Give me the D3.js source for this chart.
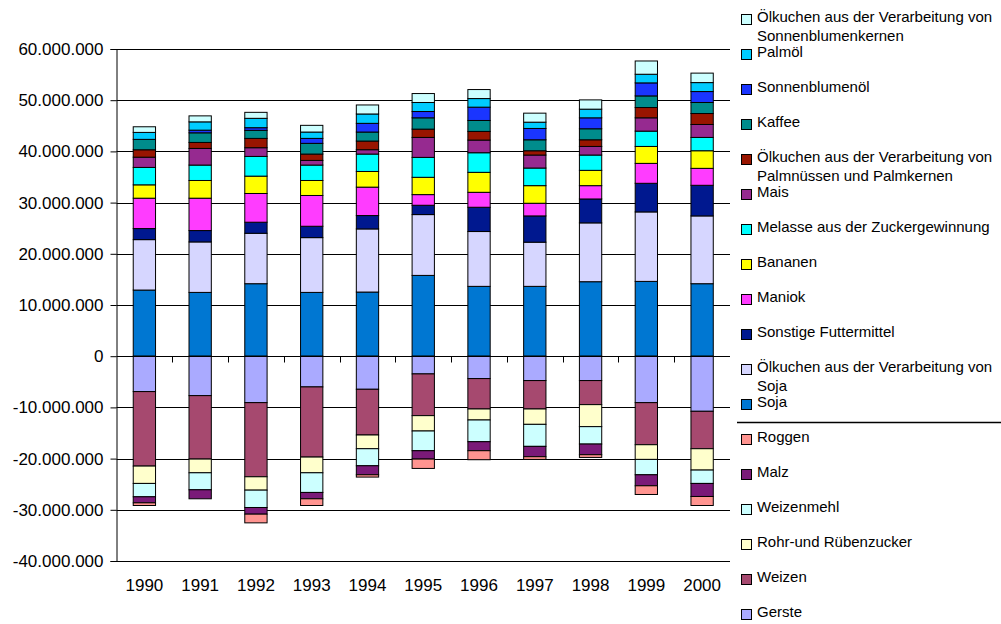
<!DOCTYPE html>
<html><head><meta charset="utf-8">
<script src="https://cdn.jsdelivr.net/npm/d3@7"></script>
<style>
html,body{margin:0;padding:0;background:#fff;}
svg{display:block;font-family:"Liberation Sans",Arial,sans-serif;}
</style></head>
<body>
<svg id="chart" width="1001" height="624"></svg>
<script>
// ---- data (tonnes) ----
const years = ["1990","1991","1992","1993","1994","1995","1996","1997","1998","1999","2000"];
const yTicks = [-40000000,-30000000,-20000000,-10000000,0,10000000,20000000,30000000,40000000,50000000,60000000];

// positive series (stacked from zero upwards, in this order)
const soja            = [12920000,12460000,14160000,12460000,12530000,15780000,13640000,13640000,14550000,14610000,14160000];
const oelkuchenSoja   = [ 9850000, 9860000, 9850000,10700000,12330000,11880000,10710000, 8630000,11490000,13570000,13240000];
const sonstige        = [ 2160000, 2220000, 2160000, 2220000, 2610000, 1820000, 4740000, 5130000, 4670000, 5590000, 5980000];
const maniok          = [ 5930000, 6320000, 5610000, 6010000, 5550000, 2080000, 2920000, 2470000, 2600000, 3890000, 3310000];
const bananen         = [ 2610000, 3460000, 3390000, 2930000, 3060000, 3380000, 3900000, 3440000, 2990000, 3310000, 3440000];
const melasse         = [ 3400000, 3010000, 3850000, 3010000, 3400000, 3890000, 3830000, 3440000, 2990000, 2990000, 2600000];
const mais            = [ 2000000, 3250000, 1700000,  910000,  850000, 3900000, 2470000, 2540000, 1680000, 2600000, 2530000];
const oelkuchenPalm   = [ 1450000, 1170000, 1820000, 1240000, 1690000, 1620000, 1690000,  840000, 1300000, 2010000, 2140000];
const kaffee          = [ 2030000, 1880000, 1570000, 2090000, 1760000, 2210000, 2140000, 2140000, 2150000, 2270000, 2150000];
const sonnenblumenoel = [       0,  520000,  520000,  970000, 1700000, 1230000, 2600000, 2210000, 2140000, 2540000, 2140000];
const palmoel         = [ 1360000, 1620000, 1830000, 1240000, 1830000, 1760000, 1680000, 1230000, 1690000, 1690000, 1750000];
const oelkuchenSonnen = [ 1100000, 1170000, 1170000, 1310000, 1760000, 1750000, 1760000, 1760000, 1810000, 2590000, 1850000];

// negative series (stacked from zero downwards, in this order)
const gerste          = [ -6910000, -7700000, -9070000, -6000000, -6460000, -3460000, -4370000, -4760000, -4760000, -9070000,-10760000];
const weizen          = [-14550000,-12390000,-14480000,-13700000, -8930000, -8150000, -5940000, -5550000, -4700000, -8220000, -7310000];
const zucker          = [ -3390000, -2680000, -2610000, -3070000, -2680000, -3000000, -2150000, -3000000, -4300000, -2870000, -4170000];
const weizenmehl      = [ -2610000, -3320000, -3390000, -3840000, -3330000, -3850000, -4240000, -4300000, -3400000, -3000000, -2610000];
const malz            = [ -1180000, -1760000, -1300000, -1240000, -1760000, -1630000, -1760000, -2020000, -2080000, -2150000, -2550000];
const roggen          = [  -520000,        0, -1700000, -1310000,  -450000, -1830000, -1760000,  -530000,  -530000, -1700000, -1760000];

const seriesNames = ["Soja","Ölkuchen aus der Verarbeitung von Soja","Sonstige Futtermittel","Maniok","Bananen",
  "Melasse aus der Zuckergewinnung","Mais","Ölkuchen aus der Verarbeitung von Palmnüssen und Palmkernen","Kaffee",
  "Sonnenblumenöl","Palmöl","Ölkuchen aus der Verarbeitung von Sonnenblumenkernen",
  "Gerste","Weizen","Rohr-und Rübenzucker","Weizenmehl","Malz","Roggen"];
const seriesValues = [soja,oelkuchenSoja,sonstige,maniok,bananen,melasse,mais,oelkuchenPalm,kaffee,
  sonnenblumenoel,palmoel,oelkuchenSonnen,gerste,weizen,zucker,weizenmehl,malz,roggen];
const seriesColors = ["#0077D2","#D6D6FF","#00188F","#FF3CFF","#FFFF00","#00FFFF","#962A90","#991500","#008C8C",
  "#1A35FF","#00CCFF","#CCFFFF",
  "#AAAAFF","#A6496F","#FFFFCC","#CCFFFF","#7A1A78","#FF9490"];

// legend: top-to-bottom order, with line breaks as in the original
const legendLabels = [
  ["Ölkuchen aus der Verarbeitung von","Sonnenblumenkernen"],["Palmöl"],["Sonnenblumenöl"],["Kaffee"],
  ["Ölkuchen aus der Verarbeitung von","Palmnüssen und Palmkernen"],["Mais"],["Melasse aus der Zuckergewinnung"],
  ["Bananen"],["Maniok"],["Sonstige Futtermittel"],["Ölkuchen aus der Verarbeitung von","Soja"],["Soja"],
  ["Roggen"],["Malz"],["Weizenmehl"],["Rohr-und Rübenzucker"],["Weizen"],["Gerste"]];
const legendSeriesIndex = [11,10,9,8,7,6,5,4,3,2,1,0,17,16,15,14,13,12];

// ---- drawing ----
const svg = d3.select("#chart");
const X0 = 116.5, X1 = 730, YT = 49, YB = 561;

const x = d3.scaleBand().domain(years).range([X0, X1]).paddingInner(0).paddingOuter(0);
const y = d3.scaleLinear().domain([-40000000, 60000000]).range([YB, YT]);
const fmt = d3.formatLocale({decimal:",", thousands:".", grouping:[3], currency:["","€"], minus:"-"}).format(",");

// gridlines
svg.append("g").selectAll("line").data(yTicks.filter(v => v !== 0)).join("line")
  .attr("x1", X0).attr("x2", X1)
  .attr("y1", d => Math.round(y(d)) + 0.5).attr("y2", d => Math.round(y(d)) + 0.5)
  .attr("stroke", "#000").attr("stroke-width", 1);

// bars
const table = years.map((yr, i) => {
  const o = {year: yr};
  seriesNames.forEach((n, k) => o[n] = seriesValues[k][i]);
  return o;
});
const stacked = d3.stack().keys(seriesNames).offset(d3.stackOffsetDiverging)(table);
const bw = x.bandwidth() / 2.5;
const gBars = svg.append("g");
stacked.forEach((layer, k) => {
  gBars.append("g").selectAll("rect").data(layer.filter(d => d[1] - d[0] !== 0)).join("rect")
    .attr("x", d => x(d.data.year) + (x.bandwidth() - bw) / 2)
    .attr("width", bw)
    .attr("y", d => y(Math.max(d[0], d[1])))
    .attr("height", d => Math.abs(y(d[0]) - y(d[1])))
    .attr("fill", seriesColors[k])
    .attr("stroke", "#000").attr("stroke-width", 1);
});

// y axis
const yAxis = svg.append("g").attr("transform", `translate(${X0},0)`)
  .call(d3.axisLeft(y).tickValues(yTicks).tickSize(6).tickPadding(7).tickFormat(fmt));
yAxis.select(".domain").attr("stroke", "#000");
yAxis.selectAll("line").attr("stroke", "#000");
yAxis.selectAll("text").attr("font-size", 17).attr("fill", "#000")
  .attr("font-family", "'Liberation Sans', Arial, sans-serif");

// x axis line at zero with category-boundary ticks
const y0 = Math.round(y(0)) + 0.5;
svg.append("line").attr("x1", X0).attr("x2", X1).attr("y1", y0).attr("y2", y0).attr("stroke", "#000");
svg.append("g").selectAll("line").data(years.slice(1)).join("line")
  .attr("x1", d => Math.round(x(d)) + 0.5).attr("x2", d => Math.round(x(d)) + 0.5)
  .attr("y1", y0).attr("y2", y0 + 6).attr("stroke", "#000");

// x labels at the bottom
svg.append("g").selectAll("text").data(years).join("text")
  .attr("x", d => x(d) + x.bandwidth() / 2).attr("y", 591)
  .attr("text-anchor", "middle").attr("font-size", 17).attr("fill", "#000")
  .text(d => d);

// legend
const lg = svg.append("g");
legendLabels.forEach((lines, i) => {
  const cy = 17 + i * 35;
  lg.append("rect").attr("x", 741.5).attr("y", Math.round(cy) - 2.5).attr("width", 10).attr("height", 10)
    .attr("fill", seriesColors[legendSeriesIndex[i]]).attr("stroke", "#000").attr("stroke-width", 1);
  lines.forEach((t, j) => {
    lg.append("text").attr("x", 757).attr("y", cy + j * 19).attr("dy", "0.35em")
      .attr("font-size", 15).attr("fill", "#000").text(t);
  });
});
lg.append("line").attr("x1", 737).attr("x2", 1001).attr("y1", 422.5).attr("y2", 422.5)
  .attr("stroke", "#000").attr("stroke-width", 1.5);
</script>
</body></html>
